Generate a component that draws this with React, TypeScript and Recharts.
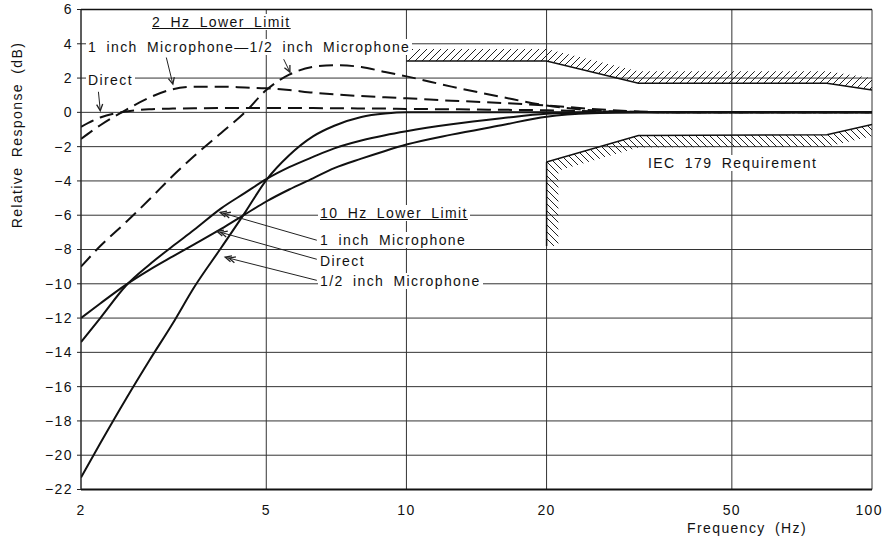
import React from "react";
import {
  Area,
  CartesianGrid,
  ComposedChart,
  Line,
  ReferenceArea,
  ReferenceLine,
  XAxis,
  YAxis
} from "recharts";

// frequencies (Hz) the curves were read at
const freqs = [2, 2.2, 2.5, 2.8, 3.15, 3.5, 4, 4.5, 5, 5.6, 6.3, 7, 8, 9, 10, 12.5, 16, 20, 25, 31.5, 40, 50, 63, 80, 100];

// 2 Hz lower limit (dashed)
const dashedDirect = [-0.85, -0.3, 0.05, 0.18, 0.22, 0.24, 0.25, 0.25, 0.25, 0.25, 0.25, 0.24, 0.23, 0.22, 0.2, 0.18, 0.15, 0.12, 0.06, 0.02, 0, 0, 0, 0, 0];
const dashedOneInch = [-1.55, -0.75, 0.15, 0.85, 1.35, 1.5, 1.5, 1.45, 1.4, 1.3, 1.15, 1.05, 0.95, 0.88, 0.82, 0.68, 0.55, 0.4, 0.2, 0.05, 0, 0, 0, 0, 0];
const dashedHalfInch = [-9.0, -7.8, -6.4, -5.1, -3.7, -2.55, -1.2, 0, 1.3, 2.2, 2.65, 2.75, 2.65, 2.35, 2.1, 1.5, 0.9, 0.4, 0.12, 0.03, 0, 0, 0, 0, 0];

// 10 Hz lower limit (solid)
const solidDirect = [-12.0, -11.15, -10.05, -9.2, -8.4, -7.7, -6.8, -5.95, -5.2, -4.5, -3.85, -3.25, -2.7, -2.25, -1.88, -1.3, -0.75, -0.25, -0.05, 0, 0, 0, 0, 0, 0];
const solidOneInch = [-13.4, -12.0, -10.1, -8.9, -7.8, -6.85, -5.6, -4.7, -3.9, -3.2, -2.6, -2.1, -1.64, -1.33, -1.1, -0.7, -0.35, -0.08, -0.01, 0, 0, 0, 0, 0, 0];
const solidHalfInch = [-21.3, -19.3, -16.7, -14.5, -12.3, -10.2, -7.9, -5.85, -3.95, -2.5, -1.4, -0.78, -0.27, -0.07, 0, 0, 0, 0, 0, 0, 0, 0, 0, 0, 0];

// IEC 179 tolerance limits
const iecUpperFreq = [10, 20, 31.5, 80, 100];
const iecUpperDb = [3, 3, 1.7, 1.7, 1.3];
const iecLowerFreq = [20, 31.5, 80, 100];
const iecLowerDb = [-2.9, -1.35, -1.3, -0.7];
const iecStepFreq = 20;
const iecStepFloor = -7.8;

const xTicks = [2, 5, 10, 20, 50, 100];
const yTicks = [6, 4, 2, 0, -2, -4, -6, -8, -10, -12, -14, -16, -18, -20, -22];

// annotation pointers [Hz, dB]
const pointers = [
  { from: [3.05, 3.2], to: [3.15, 1.65], double: false },
  { from: [5.45, 3.1], to: [5.62, 2.35], double: false },
  { from: [2.18, 1.2], to: [2.2, 0.1], double: false },
  { from: [6.42, -7.46], to: [3.98, -5.83], double: true },
  { from: [6.42, -8.57], to: [3.92, -6.94], double: true },
  { from: [6.42, -9.8], to: [4.08, -8.45], double: true }
];

const HATCH_DB = 0.7;
const HATCH_X = 1.06;
const FONT = '"Liberation Sans", Arial, Helvetica, sans-serif';

const toPoints = (vals: number[]) => freqs.map((f, i) => ({ f, db: vals[i] }));
const upperBand = iecUpperFreq.map((f, i) => ({ f, db: iecUpperDb[i], range: [iecUpperDb[i], iecUpperDb[i] + HATCH_DB] }));
const lowerBand = iecLowerFreq.map((f, i) => ({ f, db: iecLowerDb[i], range: [iecLowerDb[i] - HATCH_DB, iecLowerDb[i]] }));

const curves = [
  { key: "dd", data: toPoints(dashedDirect), dash: "14 7" },
  { key: "d1", data: toPoints(dashedOneInch), dash: "14 7" },
  { key: "dh", data: toPoints(dashedHalfInch), dash: "14 7" },
  { key: "sd", data: toPoints(solidDirect), dash: undefined },
  { key: "s1", data: toPoints(solidOneInch), dash: undefined },
  { key: "sh", data: toPoints(solidHalfInch), dash: undefined }
];

const arrowShape = (double: boolean) => (props: any) => {
  const { x1, y1, x2, y2 } = props;
  const a = Math.atan2(y2 - y1, x2 - x1);
  const L = 7;
  const s = 0.45;
  const offs = double ? [0, 4] : [0];
  return (
    <g>
      <line x1={x1} y1={y1} x2={x2} y2={y2} stroke="#222" strokeWidth={1} />
      {offs.map((o) => {
        const tx = x2 - o * Math.cos(a);
        const ty = y2 - o * Math.sin(a);
        const pts = `${tx - L * Math.cos(a - s)},${ty - L * Math.sin(a - s)} ${tx},${ty} ${tx - L * Math.cos(a + s)},${ty - L * Math.sin(a + s)}`;
        return <polyline key={o} points={pts} fill="none" stroke="#222" strokeWidth={1.3} />;
      })}
    </g>
  );
};

// last x label sits against the right edge, as in the original scan
const FreqTick = (props: any) => {
  const { x, y, payload } = props;
  const last = payload.value === xTicks[xTicks.length - 1];
  return (
    <text
      x={last ? x + 11 : x}
      y={y}
      dy="0.71em"
      textAnchor={last ? "end" : "middle"}
      fontSize={14}
      fill="#111"
      fontFamily={FONT}
    >
      {payload.value}
    </text>
  );
};

function Note({ x, y, text, underline, bg = true }: { x: number; y: number; text: string; underline?: boolean; bg?: boolean }) {
  return (
    <div
      style={{
        position: "absolute",
        left: x,
        top: y - 8,
        lineHeight: "16px",
        fontSize: 14,
        letterSpacing: "1.4px",
        wordSpacing: "4px",
        background: bg ? "#fff" : "transparent",
        padding: "0 2px",
        whiteSpace: "nowrap",
        textDecoration: underline ? "underline" : "none",
        color: "#111"
      }}
    >
      {text}
    </div>
  );
}

export default function App() {
  return (
    <div style={{ position: "fixed", left: 0, top: 0, width: 884, height: 544, background: "#fff", fontFamily: FONT, letterSpacing: "1.4px" }}>
      <ComposedChart width={884} height={544} margin={{ top: 9.5, right: 12, bottom: 24.5, left: 0 }}>
        <defs>
          <pattern id="hatchUp" width="7" height="7" patternUnits="userSpaceOnUse">
            <path d="M0,7 L7,0 M-1,1 L1,-1 M6,8 L8,6" stroke="#222" strokeWidth={1} />
          </pattern>
          <pattern id="hatchDown" width="7" height="7" patternUnits="userSpaceOnUse">
            <path d="M0,0 L7,7 M-1,6 L1,8 M6,-1 L8,1" stroke="#222" strokeWidth={1} />
          </pattern>
        </defs>
        <CartesianGrid stroke="#333" strokeWidth={1} />
        <XAxis
          type="number"
          dataKey="f"
          scale="log"
          domain={[2, 100]}
          allowDataOverflow
          ticks={xTicks}
          interval={0}
          height={30}
          tickLine={false}
          tickMargin={10}
          axisLine={{ stroke: "#111", strokeWidth: 2 }}
          tick={<FreqTick />}
        />
        <YAxis
          type="number"
          domain={[-22, 6]}
          allowDataOverflow
          ticks={yTicks}
          interval={0}
          width={81}
          tickSize={4}
          tickMargin={4}
          axisLine={{ stroke: "#222" }}
          tickLine={{ stroke: "#222" }}
          tickFormatter={(v: number) => String(v).replace("-", "\u2212")}
          tick={{ fontSize: 14, fill: "#111", fontFamily: FONT }}
        />
        <ReferenceLine y={6} stroke="#111" strokeWidth={1.5} />
        <Area data={upperBand} dataKey="range" type="linear" stroke="none" fill="url(#hatchUp)" fillOpacity={1} isAnimationActive={false} />
        <Area data={lowerBand} dataKey="range" type="linear" stroke="none" fill="url(#hatchDown)" fillOpacity={1} isAnimationActive={false} />
        <ReferenceArea
          x1={iecStepFreq}
          x2={iecStepFreq * HATCH_X}
          y1={iecStepFloor}
          y2={iecLowerDb[0]}
          fill="url(#hatchDown)"
          fillOpacity={1}
          stroke="none"
        />
        <ReferenceLine
          segment={[{ x: iecStepFreq, y: iecStepFloor }, { x: iecStepFreq, y: iecLowerDb[0] }]}
          stroke="#111"
          strokeWidth={1.5}
        />
        <Line data={upperBand} dataKey="db" type="linear" stroke="#111" strokeWidth={1.5} dot={false} activeDot={false} isAnimationActive={false} />
        <Line data={lowerBand} dataKey="db" type="linear" stroke="#111" strokeWidth={1.5} dot={false} activeDot={false} isAnimationActive={false} />
        {curves.map((c) => (
          <Line
            key={c.key}
            data={c.data}
            dataKey="db"
            type="monotone"
            stroke="#111"
            strokeWidth={2}
            strokeDasharray={c.dash}
            dot={false}
            activeDot={false}
            isAnimationActive={false}
          />
        ))}
        {pointers.map((p, i) => (
          <ReferenceLine
            key={i}
            segment={[{ x: p.from[0], y: p.from[1] }, { x: p.to[0], y: p.to[1] }]}
            shape={arrowShape(p.double)}
          />
        ))}
      </ComposedChart>

      <Note x={150} y={22} text="2 Hz Lower Limit" underline />
      <Note x={86} y={47} text={"1 inch Microphone\u20141/2 inch Microphone"} />
      <Note x={86} y={80} text="Direct" />
      <Note x={318} y={213} text="10 Hz Lower Limit" underline />
      <Note x={318} y={240} text="1 inch Microphone" />
      <Note x={318} y={261} text="Direct" />
      <Note x={318} y={281} text="1/2 inch Microphone" />
      <Note x={646} y={163} text="IEC 179 Requirement" />
      <Note x={685} y={528} text="Frequency (Hz)" bg={false} />
      <div
        style={{
          position: "absolute",
          left: 17,
          top: 135,
          transform: "translate(-50%, -50%) rotate(-90deg)",
          fontSize: 14,
          letterSpacing: "1.4px",
          wordSpacing: "4px",
          whiteSpace: "nowrap",
          color: "#111"
        }}
      >
        Relative Response (dB)
      </div>
    </div>
  );
}
